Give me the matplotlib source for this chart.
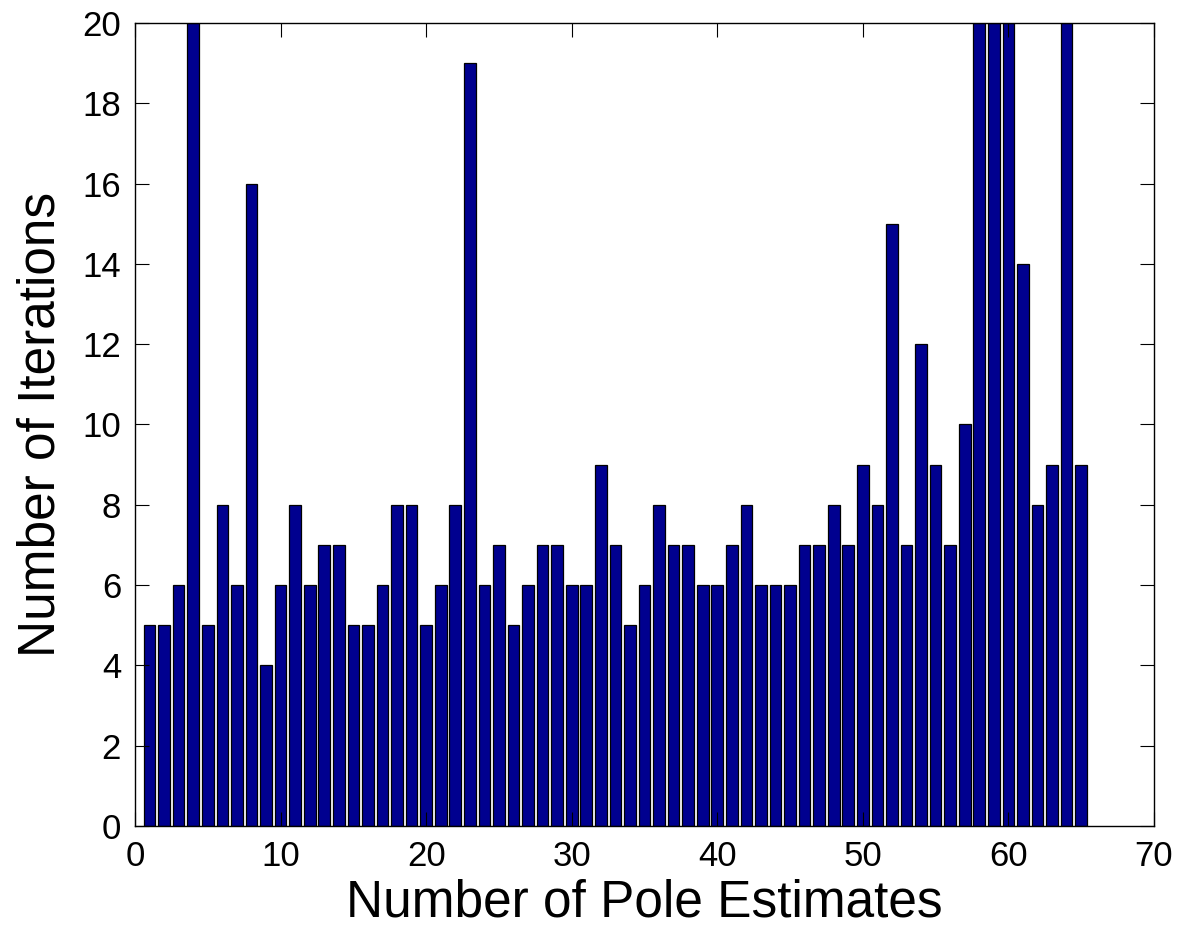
import matplotlib
matplotlib.use('Agg')
import matplotlib.pyplot as plt

plt.rcParams['font.family'] = ['Liberation Sans', 'DejaVu Sans']

# pole estimate index and iterations needed (bars at 20 are clipped at the top)
pole_estimates = list(range(1, 66))
iterations = [5, 5, 6, 20, 5, 8, 6, 16, 4, 6,
              8, 6, 7, 7, 5, 5, 6, 8, 8, 5,
              6, 8, 19, 6, 7, 5, 6, 7, 7, 6,
              6, 9, 7, 5, 6, 8, 7, 7, 6, 6,
              7, 8, 6, 6, 6, 7, 7, 8, 7, 9,
              8, 15, 7, 12, 9, 7, 10, 20, 20, 20,
              14, 8, 9, 20, 9]

x_ticks = [0, 10, 20, 30, 40, 50, 60, 70]
y_ticks = [0, 2, 4, 6, 8, 10, 12, 14, 16, 18, 20]


def main():
    fig = plt.figure(figsize=(11.78, 9.3), dpi=100)
    ax = fig.add_axes([0.1146, 0.1118, 0.865, 0.8635])
    ax.bar(pole_estimates, iterations, width=0.8, color='#00008F',
           edgecolor='black', linewidth=0.9)
    ax.set_xlim(0, 70)
    ax.set_ylim(0, 20)
    ax.set_xticks(x_ticks)
    ax.set_yticks(y_ticks)
    ax.tick_params(direction='in', length=10, width=0.8, labelsize=25,
                   top=True, right=True)
    ax.tick_params(axis='x', pad=10)
    ax.tick_params(axis='y', pad=10)
    for s in ax.spines.values():
        s.set_linewidth(1.0)
    ax.set_xlabel('Number of Pole Estimates', fontsize=37, labelpad=4)
    ax.set_ylabel('Number of Iterations', fontsize=37, labelpad=12)
    fig.savefig('out.png', dpi=100)


if __name__ == '__main__':
    main()
